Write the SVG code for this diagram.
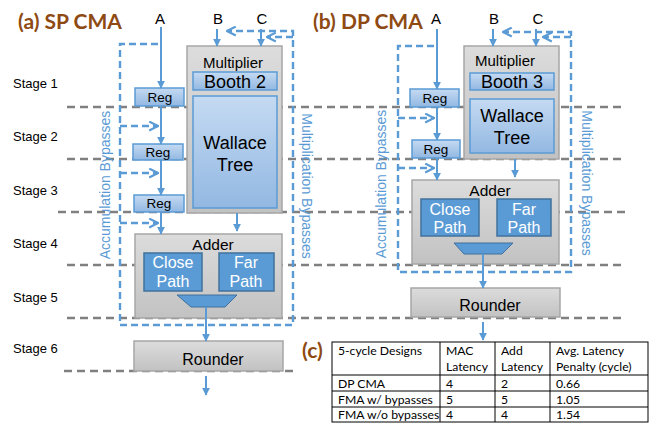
<svg xmlns="http://www.w3.org/2000/svg" width="656" height="423" viewBox="0 0 656 423">
<style>
.stage{stroke:#808080;stroke-width:2.5;stroke-dasharray:8 5;fill:none}
.byp{stroke:#5B9BD5;stroke-width:2.4;stroke-dasharray:7 4;fill:none}
.sol{stroke:#5B9BD5;stroke-width:2;fill:none}
.gbox{fill:url(#gg);stroke:#A6A6A6;stroke-width:1.5}
.lbox{fill:url(#lb);stroke:#5B9BD5;stroke-width:1.5}
.dbox{fill:#5B9BD5;stroke:#41719C;stroke-width:1.5}
.t{font-family:"Liberation Sans",Arial,sans-serif;fill:#000}
.w{font-family:"Liberation Sans",Arial,sans-serif;fill:#fff}
.bt{font-family:"Liberation Sans",Arial,sans-serif;fill:#5B9BD5;font-size:14px}
.title{font-family:Lato,"Open Sans",sans-serif;font-weight:bold;fill:#8E4A12;font-size:21px}
.tb{font-family:Lato,"Open Sans",sans-serif;font-size:12.2px;fill:#000}
.grid{stroke:#000;stroke-width:1;fill:none}
</style>
<defs>
<linearGradient id="gg" x1="0" y1="0" x2="0" y2="1"><stop offset="0" stop-color="#DCDCDC"/><stop offset="1" stop-color="#C2C2C2"/></linearGradient>
<linearGradient id="lb" x1="0" y1="0" x2="0" y2="1"><stop offset="0" stop-color="#C5DAF2"/><stop offset="1" stop-color="#92B8E2"/></linearGradient>
<marker id="ah" viewBox="0 0 10 10" refX="9" refY="5" markerWidth="8" markerHeight="8" markerUnits="userSpaceOnUse" orient="auto"><path d="M0,0 L10,5 L0,10 z" fill="#5B9BD5"/></marker>
<marker id="ch" viewBox="0 0 10 10" refX="9" refY="5" markerWidth="11" markerHeight="11" markerUnits="userSpaceOnUse" orient="auto"><path d="M1,1 L9,5 L1,9" fill="none" stroke="#5B9BD5" stroke-width="2"/></marker>
</defs>

<!-- stage boundaries -->
<g id="stages">
<line class="stage" x1="67" y1="107" x2="625" y2="107"/>
<line class="stage" x1="67" y1="159" x2="625" y2="159"/>
<line class="stage" x1="58" y1="212" x2="625" y2="212"/>
<line class="stage" x1="67" y1="265" x2="625" y2="265"/>
<line class="stage" x1="67" y1="318" x2="625" y2="318"/>
<line class="stage" x1="64" y1="371" x2="293" y2="371"/>
</g>
<g id="stage-labels" class="t" font-size="13">
<text x="13" y="88">Stage 1</text>
<text x="13" y="141">Stage 2</text>
<text x="13" y="195">Stage 3</text>
<text x="13" y="248">Stage 4</text>
<text x="13" y="302">Stage 5</text>
<text x="13" y="353">Stage 6</text>
</g>

<text class="title" x="18" y="29">(a) SP CMA</text>
<text class="title" x="313" y="29">(b) DP CMA</text>
<text class="title" x="302" y="358">(c)</text>

<g class="t" font-size="15" text-anchor="middle">
<text x="160" y="24">A</text><text x="218" y="24">B</text><text x="262" y="24">C</text>
<text x="436" y="24">A</text><text x="494" y="24">B</text><text x="538" y="24">C</text>
</g>

<!-- Panel (a) nodes -->
<g id="a-multiplier"><rect class="gbox" x="187" y="46" width="95" height="167"/>
<text class="t" x="233" y="68" font-size="15" text-anchor="middle">Multiplier</text></g>
<g id="a-booth"><rect class="lbox" x="193" y="72" width="84" height="18"/>
<text class="t" x="235" y="88" font-size="18" text-anchor="middle">Booth 2</text></g>
<g id="a-wallace"><rect class="lbox" x="193" y="96" width="84" height="112"/>
<text class="t" x="235" y="149" font-size="18" text-anchor="middle">Wallace</text>
<text class="t" x="235" y="171" font-size="18" text-anchor="middle">Tree</text></g>
<g id="a-reg1"><rect class="lbox" x="135" y="88" width="49" height="18"/><text class="t" x="160" y="102" font-size="13.5" text-anchor="middle">Reg</text></g>
<g id="a-reg2"><rect class="lbox" x="133" y="144" width="50" height="16"/><text class="t" x="158" y="157" font-size="13.5" text-anchor="middle">Reg</text></g>
<g id="a-reg3"><rect class="lbox" x="134" y="195" width="50" height="17"/><text class="t" x="159" y="208" font-size="13.5" text-anchor="middle">Reg</text></g>
<g id="a-adder"><rect class="gbox" x="135" y="234" width="147" height="84"/>
<text class="t" x="213" y="250" font-size="15.5" text-anchor="middle">Adder</text></g>
<g id="a-close"><rect class="dbox" x="144" y="253" width="58" height="38"/>
<text class="w" x="173" y="268" font-size="16" text-anchor="middle">Close</text><text class="w" x="173" y="287" font-size="16" text-anchor="middle">Path</text></g>
<g id="a-far"><rect class="dbox" x="219" y="253" width="55" height="38"/>
<text class="w" x="246" y="268" font-size="16" text-anchor="middle">Far</text><text class="w" x="246" y="287" font-size="16" text-anchor="middle">Path</text></g>
<g id="a-mux"><polygon points="177,295 237,295 225,307 191,307" fill="#5B9BD5" stroke="#41719C" stroke-width="1"/></g>
<g id="a-rounder"><rect class="gbox" x="134" y="341" width="149" height="30"/>
<text class="t" x="213" y="365" font-size="16" text-anchor="middle">Rounder</text></g>

<!-- Panel (b) nodes -->
<g id="b-multiplier"><rect class="gbox" x="464" y="46" width="95" height="113"/>
<text class="t" x="505" y="66" font-size="15" text-anchor="middle">Multiplier</text></g>
<g id="b-booth"><rect class="lbox" x="470" y="73" width="84" height="17"/>
<text class="t" x="512" y="88" font-size="18" text-anchor="middle">Booth 3</text></g>
<g id="b-wallace"><rect class="lbox" x="470" y="99" width="84" height="54"/>
<text class="t" x="512" y="122" font-size="18" text-anchor="middle">Wallace</text>
<text class="t" x="512" y="144" font-size="18" text-anchor="middle">Tree</text></g>
<g id="b-reg1"><rect class="lbox" x="410" y="89" width="49" height="18"/><text class="t" x="435" y="103" font-size="13.5" text-anchor="middle">Reg</text></g>
<g id="b-reg2"><rect class="lbox" x="412" y="140" width="48" height="18"/><text class="t" x="436" y="154" font-size="13.5" text-anchor="middle">Reg</text></g>
<g id="b-adder"><rect class="gbox" x="412" y="180" width="147" height="84"/>
<text class="t" x="490" y="196" font-size="15.5" text-anchor="middle">Adder</text></g>
<g id="b-close"><rect class="dbox" x="421" y="199" width="58" height="37"/>
<text class="w" x="450" y="215" font-size="16" text-anchor="middle">Close</text><text class="w" x="450" y="233" font-size="16" text-anchor="middle">Path</text></g>
<g id="b-far"><rect class="dbox" x="497" y="199" width="54" height="37"/>
<text class="w" x="524" y="215" font-size="16" text-anchor="middle">Far</text><text class="w" x="524" y="233" font-size="16" text-anchor="middle">Path</text></g>
<g id="b-mux"><polygon points="454,243 513,243 502,254 464,254" fill="#5B9BD5" stroke="#41719C" stroke-width="1"/></g>
<g id="b-rounder"><rect class="gbox" x="411" y="288" width="149" height="29"/>
<text class="t" x="490" y="311" font-size="16" text-anchor="middle">Rounder</text></g>

<!-- connectors -->
<g id="connectors">
<!-- (a) solid -->
<line class="sol" x1="161" y1="27" x2="161" y2="88" marker-end="url(#ah)"/>
<line class="sol" x1="161" y1="106" x2="161" y2="144" marker-end="url(#ah)"/>
<line class="sol" x1="161" y1="160" x2="161" y2="195" marker-end="url(#ah)"/>
<line class="sol" x1="161" y1="212" x2="161" y2="234" marker-end="url(#ah)"/>
<line class="sol" x1="217" y1="29" x2="217" y2="46" marker-end="url(#ah)"/>
<line class="sol" x1="261" y1="29" x2="261" y2="46" marker-end="url(#ah)"/>
<line class="sol" x1="237" y1="213" x2="237" y2="231" marker-end="url(#ah)"/>
<line class="sol" x1="206" y1="307" x2="206" y2="341" marker-end="url(#ah)"/>
<line class="sol" x1="206" y1="376" x2="206" y2="395" marker-end="url(#ah)"/>
<!-- (a) bypasses -->
<polyline class="byp" points="158,44 120,44 120,325 293,325 293,31 227,31" marker-end="url(#ch)"/>
<polyline class="byp" points="293,37 267,37" marker-end="url(#ch)"/>
<polyline class="byp" points="120,126 158,126" marker-end="url(#ch)"/>
<polyline class="byp" points="120,173 158,173" marker-end="url(#ch)"/>
<polyline class="byp" points="120,223 158,223" marker-end="url(#ch)"/>
<!-- (b) solid -->
<line class="sol" x1="437" y1="29" x2="437" y2="89" marker-end="url(#ah)"/>
<line class="sol" x1="437" y1="107" x2="437" y2="140" marker-end="url(#ah)"/>
<line class="sol" x1="437" y1="158" x2="437" y2="180" marker-end="url(#ah)"/>
<line class="sol" x1="493" y1="29" x2="493" y2="46" marker-end="url(#ah)"/>
<line class="sol" x1="536" y1="29" x2="536" y2="46" marker-end="url(#ah)"/>
<line class="sol" x1="515" y1="159" x2="515" y2="177" marker-end="url(#ah)"/>
<line class="sol" x1="483" y1="254" x2="483" y2="288" marker-end="url(#ah)"/>
<line class="sol" x1="483" y1="322" x2="483" y2="340" marker-end="url(#ah)"/>
<!-- (b) bypasses -->
<polyline class="byp" points="434,46 398,46 398,272 571,272 571,32 503,32" marker-end="url(#ch)"/>
<polyline class="byp" points="571,37 543,37" marker-end="url(#ch)"/>
<polyline class="byp" points="398,118 434,118" marker-end="url(#ch)"/>
<polyline class="byp" points="398,168 434,168" marker-end="url(#ch)"/>
</g>

<g id="bypass-labels">
<text class="bt" text-anchor="middle" dominant-baseline="central" transform="translate(105,185) rotate(-90)">Accumulation Bypasses</text>
<text class="bt" text-anchor="middle" dominant-baseline="central" transform="translate(307,186) rotate(90)">Multiplication Bypasses</text>
<text class="bt" text-anchor="middle" dominant-baseline="central" transform="translate(381,184) rotate(-90)">Accumulation Bypasses</text>
<text class="bt" text-anchor="middle" dominant-baseline="central" transform="translate(587,183) rotate(90)">Multiplication Bypasses</text>
</g>

<!-- table (c) -->
<g id="table">
<rect class="grid" x="332" y="342" width="316" height="80"/>
<line class="grid" x1="332" y1="375" x2="648" y2="375"/>
<line class="grid" x1="332" y1="391" x2="648" y2="391"/>
<line class="grid" x1="332" y1="407" x2="648" y2="407"/>
<line class="grid" x1="440" y1="342" x2="440" y2="422"/>
<line class="grid" x1="495" y1="342" x2="495" y2="422"/>
<line class="grid" x1="550" y1="342" x2="550" y2="422"/>
<text class="tb" x="338" y="355">5-cycle Designs</text>
<text class="tb" x="446" y="355">MAC</text><text class="tb" x="446" y="371">Latency</text>
<text class="tb" x="501" y="355">Add</text><text class="tb" x="501" y="371">Latency</text>
<text class="tb" x="556" y="355">Avg. Latency</text><text class="tb" x="556" y="371">Penalty (cycle)</text>
<text class="tb" x="338" y="388">DP CMA</text><text class="tb" x="446" y="388">4</text><text class="tb" x="501" y="388">2</text><text class="tb" x="556" y="388">0.66</text>
<text class="tb" x="338" y="404">FMA w/ bypasses</text><text class="tb" x="446" y="404">5</text><text class="tb" x="501" y="404">5</text><text class="tb" x="556" y="404">1.05</text>
<text class="tb" x="338" y="419">FMA w/o bypasses</text><text class="tb" x="446" y="419">4</text><text class="tb" x="501" y="419">4</text><text class="tb" x="556" y="419">1.54</text>
</g>
</svg>
